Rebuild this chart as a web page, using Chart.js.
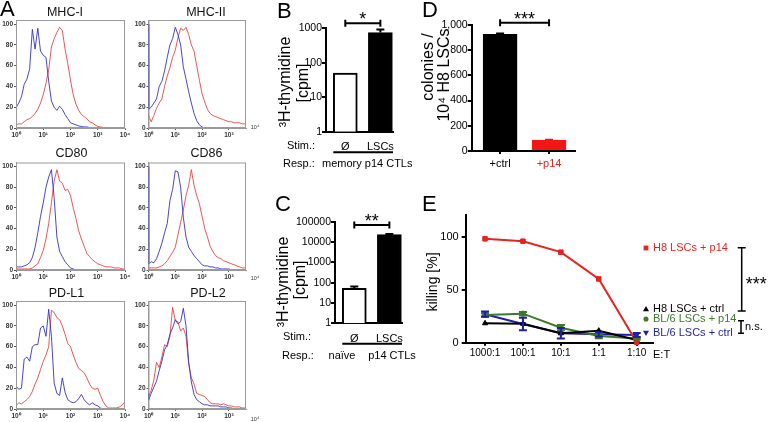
<!DOCTYPE html>
<html>
<head>
<meta charset="utf-8">
<script src="https://cdn.jsdelivr.net/npm/chart.js@4.4.1/dist/chart.umd.min.js"></script>
<style>
  html, body { margin: 0; padding: 0; background: #fff; }
  #fig { position: relative; width: 768px; height: 422px; overflow: hidden; font-family: "Liberation Sans", Arial, sans-serif; }
  #fig canvas { position: absolute; }
  .t { position: absolute; white-space: nowrap; line-height: 1; color: #000; }
</style>
</head>
<body>
<div id="fig"></div>
<script>
// ---- data: flow histograms (x = log10 of fluorescence, y = % of max) ----
const HIST_EXP = [0, 0.01, 0.1, 0.2, 0.3, 0.4, 0.5, 0.6, 0.7, 0.8, 0.9, 1.0, 1.1, 1.2, 1.3, 1.4, 1.5, 1.6, 1.7, 1.8, 1.9, 2.0,
  2.1, 2.2, 2.3, 2.4, 2.5, 2.6, 2.7, 2.8, 2.9, 3.0, 3.1, 3.2, 3.3, 3.4, 3.5, 3.6, 3.7, 3.8, 3.9, 4.0];
const HIST_X_LABELS = ['10⁰', '10¹', '10²', '10³', '10⁴'];
const HIST_Y_TICKS = [0, 20, 40, 60, 80, 100];

const MHC1_CTRL  = [100, 20, 24, 30, 42, 47, 57, 95, 76, 96, 74, 70, 68, 45, 26, 20, 17, 21, 18, 13, 9, 5, 4, 3, 2, 1.5, 1, 1, 0.5, 0.5, 0, 0, 0, 0, 0, 0, 0, 0, 0, 0, 0, 0];
const MHC1_STAIN = [3, 3, 4, 4, 6, 8, 9, 11, 14, 18, 24, 32, 43, 56, 78, 86, 92, 97, 94, 76, 62, 46, 32, 23, 17, 13, 11, 9, 6, 5, 3, 1.5, 1, 0.5, 0.5, 0, 0, 0, 0, 0, 0, 0];
const MHC2_CTRL  = [100, 18, 20, 24, 28, 40, 45, 55, 68, 80, 86, 97, 90, 80, 59, 47, 35, 24, 14, 7, 3, 1, 0, 0, 0, 0, 0, 0, 0, 0, 0, 0, 0, 0, 0, 0, 0, 0, 0, 0, 0, 0];
const MHC2_STAIN = [12, 11, 6, 12, 19, 24, 28, 40, 50, 58, 68, 75, 87, 96, 94, 97, 90, 80, 74, 60, 46, 33, 25, 18, 14, 12, 11, 10, 9, 8, 7, 6, 6, 5, 5, 5, 4, 4, 3, 3, 3, 2];
const CD80_CTRL  = [12, 3, 3, 3, 4, 5, 7, 12, 22, 36, 52, 65, 80, 90, 97, 70, 32, 18, 13, 8, 5, 2, 1, 0, 0, 0, 0, 0, 0, 0, 0, 0, 0, 0, 0, 0, 0, 0, 0, 0, 0, 0];
const CD80_STAIN = [2, 1, 1, 1, 1, 1, 1, 2, 4, 6, 12, 19, 30, 45, 65, 86, 97, 86, 84, 77, 78, 72, 60, 50, 38, 30, 23, 16, 13, 10, 8, 6, 5, 4, 3, 3, 3, 2, 2, 2, 1, 1];
const CD86_CTRL  = [100, 6, 8, 7, 11, 18, 26, 36, 45, 67, 78, 96, 95, 80, 51, 32, 22, 18, 14, 11, 8, 5, 4, 4, 3, 3, 2, 2, 1, 1, 1, 1, 0, 0, 0, 0, 0, 0, 0, 0, 0, 0];
const CD86_STAIN = [2, 2, 2, 2, 2, 3, 4, 6, 9, 13, 17, 22, 34, 46, 58, 72, 82, 97, 82, 72, 64, 52, 40, 32, 23, 18, 14, 12, 11, 9, 8, 7, 6, 5, 4, 3, 2, 2, 1, 1, 1, 1];
const PDL1_CTRL  = [30, 22, 19, 20, 48, 50, 46, 60, 62, 62, 78, 80, 70, 96, 70, 25, 15, 13, 30, 16, 9, 7, 6, 7, 10, 14, 9, 6, 4, 6, 4, 3, 1, 0, 0, 0, 0, 0, 0, 0, 0, 0];
const PDL1_STAIN = [3, 3, 6, 5, 7, 9, 12, 17, 24, 30, 38, 46, 52, 60, 95, 93, 88, 86, 80, 72, 63, 60, 52, 45, 39, 37, 35, 30, 24, 20, 19, 20, 13, 7, 3, 1, 1, 1, 1, 2, 4, 7];
const PDL2_CTRL  = [15, 9, 15, 21, 27, 37, 46, 57, 62, 72, 78, 86, 82, 84, 97, 80, 45, 26, 14, 9, 7, 5, 4, 4, 3, 3, 3, 3, 2, 2, 2, 1, 1, 0, 0, 0, 0, 0, 0, 0, 0, 0];
const PDL2_STAIN = [12, 12, 18, 28, 45, 40, 50, 62, 60, 70, 98, 85, 84, 75, 78, 70, 44, 30, 24, 15, 14, 13, 12, 9, 6, 5, 5, 5, 4, 5, 4, 3, 3, 2, 2, 2, 1, 1, 1, 1, 1, 1];

// ---- data: proliferation (B, C) ----
const STIM = ['Ø', 'LSCs'];
const B_CPM = [50, 750];
const B_ERR = [0, 170];
const B_TICKS = [1, 10, 100, 1000];
const C_CPM = [53, 23000];
const C_ERR = [12, 2000];
const C_TICKS = [1, 10, 100, 1000, 10000, 100000];

// ---- data: colonies (D) ----
const D_LABELS = ['+ctrl', '+p14'];
const D_COLONIES = [926, 87];
const D_ERR = [6, 3];
const D_TICKS = [0, 200, 400, 600, 800, 1000];

// ---- data: killing (E) ----
const ET = ['1000:1', '100:1', '10:1', '1:1', '1:10'];
const E_TICKS = [0, 50, 100];
const KILL_H8_P14 = [98.4, 96.2, 85.8, 60.4, 0.5];
const KILL_H8_CTRL = [18.4, 18, 8.9, 11.4, 2.5];
const KILL_BL6_P14 = [26.3, 27.5, 14.2, 6.3, 4];
const KILL_BL6_CTRL = [27, 17.7, 8.9, 7.9, 7.3];
const ERR_H8_P14 = [0, 0, 0, 0, 0];
const ERR_H8_CTRL = [0, 0, 0, 0, 0];
const ERR_BL6_P14 = [1.5, 1.5, 2.5, 2, 1];
const ERR_BL6_CTRL = [2.5, 6, 5, 2, 2];

Chart.defaults.font.family = '"Liberation Sans", Arial, sans-serif';
Chart.defaults.font.size = 11;
Chart.defaults.color = '#000';
Chart.defaults.animation = false;
Chart.defaults.events = [];
Chart.defaults.plugins.legend.display = false;
Chart.defaults.plugins.tooltip.enabled = false;

const fig = document.getElementById('fig');

function canvasAt(left, top, w, h) {
  const c = document.createElement('canvas');
  c.width = w; c.height = h;
  c.style.left = left + 'px'; c.style.top = top + 'px';
  c.style.width = w + 'px'; c.style.height = h + 'px';
  fig.appendChild(c);
  return c;
}

function text(str, x, y, o = {}) {
  const d = document.createElement('div');
  d.className = 't';
  d.textContent = str;
  d.style.left = x + 'px';
  d.style.top = y + 'px';
  d.style.fontSize = (o.size || 11) + 'px';
  if (o.color) d.style.color = o.color;
  if (o.bold) d.style.fontWeight = 'bold';
  const ax = o.align === 'left' ? '0' : '-50%';
  d.style.transform = `translate(${ax},-50%)` + (o.rotate ? ' rotate(-90deg)' : '');
  fig.appendChild(d);
}

// chart area [L,T,R,B] in page pixels -> padding and axis sizes for a canvas [left,top,w,h]
function frame(cv, area) {
  return {
    padding: { left: 0, top: area[1] - cv[1], right: cv[0] + cv[2] - area[2], bottom: 0 },
    yw: area[0] - cv[0],
    xh: cv[1] + cv[3] - area[3]
  };
}

const boxPlugin = {
  id: 'box',
  afterDatasetsDraw(chart) {
    const { ctx, chartArea: a } = chart;
    ctx.save();
    ctx.strokeStyle = '#9a9a9a';
    ctx.lineWidth = 1;
    ctx.strokeRect(a.left + 0.5, a.top + 0.5, a.right - a.left - 1, a.bottom - a.top - 1);
    ctx.restore();
  }
};

const errorBars = {
  id: 'errorBars',
  afterDatasetsDraw(chart) {
    const ctx = chart.ctx, ys = chart.scales.y, isBar = chart.config.type === 'bar';
    chart.data.datasets.forEach((ds, di) => {
      if (!ds.errors) return;
      const meta = chart.getDatasetMeta(di);
      ctx.save();
      ctx.lineWidth = 2;
      meta.data.forEach((el, i) => {
        const e = ds.errors[i];
        if (!e) return;
        const v = ds.data[i].y;
        const c = ds.borderColor;
        ctx.strokeStyle = Array.isArray(c) ? c[i] : c;
        const top = ys.getPixelForValue(v + e);
        const bot = isBar ? el.y : ys.getPixelForValue(Math.max(v - e, 0));
        const w = 4;
        ctx.beginPath();
        ctx.moveTo(el.x, bot); ctx.lineTo(el.x, top);
        ctx.moveTo(el.x - w, top); ctx.lineTo(el.x + w, top);
        if (!isBar) { ctx.moveTo(el.x - w, bot); ctx.lineTo(el.x + w, bot); }
        ctx.stroke();
      });
      ctx.restore();
    });
  }
};

// significance bracket between the two bars, plus the line under the stimulus labels
const sigPlugin = {
  id: 'sig',
  afterDraw(chart, args, o) {
    if (!o || !o.text) return;
    const { ctx, chartArea: a } = chart;
    const bars = chart.getDatasetMeta(0).data;
    const x1 = bars[0].x, x2 = bars[1].x, y = a.top + o.dy;
    ctx.save();
    ctx.strokeStyle = '#000';
    ctx.lineWidth = 2;
    ctx.beginPath();
    ctx.moveTo(x1, y); ctx.lineTo(x2, y);
    ctx.moveTo(x1, y - 3.5); ctx.lineTo(x1, y + 3.5);
    ctx.moveTo(x2, y - 3.5); ctx.lineTo(x2, y + 3.5);
    if (o.under) {
      const yu = a.bottom + o.under;
      ctx.moveTo(bars[0].x - bars[0].width / 2, yu);
      ctx.lineTo(a.right, yu);
    }
    ctx.stroke();
    ctx.fillStyle = '#000';
    ctx.font = '18px "Liberation Sans", Arial, sans-serif';
    ctx.textAlign = 'center';
    ctx.textBaseline = 'alphabetic';
    ctx.fillText(o.text, (x1 + x2) / 2, y + 2);
    ctx.restore();
  }
};

function marker(ctx, style, down, x, y, r) {
  ctx.beginPath();
  if (style === 'rect') ctx.rect(x - r * 0.8, y - r * 0.8, r * 1.6, r * 1.6);
  else if (style === 'circle') ctx.arc(x, y, r * 0.85, 0, Math.PI * 2);
  else {
    const s = down ? -1 : 1;
    ctx.moveTo(x, y - s * r);
    ctx.lineTo(x + r, y + s * r * 0.75);
    ctx.lineTo(x - r, y + s * r * 0.75);
    ctx.closePath();
  }
  ctx.fill();
}

const legendE = {
  id: 'legendE',
  afterDraw(chart, args, o) {
    const ctx = chart.ctx;
    ctx.save();
    ctx.textBaseline = 'middle';
    ctx.textAlign = 'left';
    ctx.font = '11px "Liberation Sans", Arial, sans-serif';
    chart.data.datasets.forEach((ds, i) => {
      const y = o.ys[i];
      ctx.fillStyle = ds.borderColor;
      marker(ctx, ds.pointStyle, ds.pointRotation === 180, o.x, y, 3);
      ctx.fillText(ds.label, o.x + 7, y);
    });
    ctx.strokeStyle = '#000';
    ctx.fillStyle = '#000';
    ctx.lineWidth = 1.5;
    o.brackets.forEach(b => {
      ctx.beginPath();
      ctx.moveTo(b.x, b.y1); ctx.lineTo(b.x, b.y2);
      ctx.moveTo(b.x - b.cap, b.y1); ctx.lineTo(b.x + b.cap, b.y1);
      ctx.moveTo(b.x - b.cap, b.y2); ctx.lineTo(b.x + b.cap, b.y2);
      ctx.stroke();
      ctx.font = b.size + 'px "Liberation Sans", Arial, sans-serif';
      ctx.textBaseline = b.size > 12 ? 'alphabetic' : 'middle';
      const ym = (b.y1 + b.y2) / 2 + (b.size > 12 ? b.size * 0.57 : 0);
      ctx.fillText(b.text, b.x + 4, ym);
    });
    ctx.restore();
  }
};

// ---- A: histograms ----
const HIST_PANELS = [
  { title: 'MHC-I', ctrl: MHC1_CTRL, stain: MHC1_STAIN },
  { title: 'MHC-II', ctrl: MHC2_CTRL, stain: MHC2_STAIN },
  { title: 'CD80', ctrl: CD80_CTRL, stain: CD80_STAIN },
  { title: 'CD86', ctrl: CD86_CTRL, stain: CD86_STAIN },
  { title: 'PD-L1', ctrl: PDL1_CTRL, stain: PDL1_STAIN },
  { title: 'PD-L2', ctrl: PDL2_CTRL, stain: PDL2_STAIN }
];
const HIST_ROWS = [
  { top: 0, h: 142, T: 20, B: 128, ty: 12 },
  { top: 142, h: 142, T: 162.5, B: 270, ty: 152.5 },
  { top: 284, h: 138, T: 301, B: 409, ty: 292.5 }
];
const HIST_COLS = [
  { left: 0, w: 133, L: 16, R: 125, xmax: 4 },
  { left: 132, w: 120, L: 148.5, R: 246, xmax: 3.64 }
];
const HIST_TITLE_X = [[65, 206], [71.5, 206.5], [66.5, 208]];

HIST_PANELS.forEach((p, k) => {
  const row = HIST_ROWS[Math.floor(k / 2)], col = HIST_COLS[k % 2];
  const cv = [col.left, row.top, col.w, row.h];
  const f = frame(cv, [col.L, row.T, col.R, row.B]);
  const tickFont = { size: 6.5, weight: 'bold' };
  const grid = { drawOnChartArea: false, tickLength: 2, color: '#555', lineWidth: 1 };
  new Chart(canvasAt(...cv), {
    type: 'line',
    data: {
      datasets: [
        { data: HIST_EXP.map((x, i) => ({ x, y: p.ctrl[i] })), borderColor: 'rgba(50,50,205,0.9)', borderWidth: 1, pointRadius: 0 },
        { data: HIST_EXP.map((x, i) => ({ x, y: p.stain[i] })), borderColor: 'rgba(235,55,55,0.85)', borderWidth: 1, pointRadius: 0 }
      ]
    },
    options: {
      responsive: false,
      layout: { padding: f.padding },
      scales: {
        x: {
          type: 'linear', min: 0, max: col.xmax,
          afterBuildTicks: s => { s.ticks = HIST_X_LABELS.map((_, i) => ({ value: i })).filter(t => t.value <= col.xmax); },
          afterFit: s => { s.height = f.xh; },
          ticks: { callback: v => HIST_X_LABELS[v], font: tickFont, color: '#333', padding: 1, maxRotation: 0, autoSkip: false },
          grid, border: { color: '#999', width: 1 }
        },
        y: {
          min: 0, max: 104,
          afterBuildTicks: s => { s.ticks = HIST_Y_TICKS.map(v => ({ value: v })); },
          afterFit: s => { s.width = f.yw; },
          ticks: { font: tickFont, color: '#333', padding: 1 },
          grid, border: { color: '#999', width: 1 }
        }
      }
    },
    plugins: [boxPlugin]
  });
  text(p.title, HIST_TITLE_X[Math.floor(k / 2)][k % 2], row.ty, { size: 12.5, color: '#111' });
  if (k % 2 === 1) text('10⁴', 255, row.B + (k === 5 ? 11 : 0) + (k === 3 ? 9 : 0), { size: 5.5, color: '#333' });
});

// ---- B and C: 3H-thymidine bars on log axes ----
function prolifChart(cv, area, values, errs, ticks, max) {
  const f = frame(cv, area);
  const blackGrid = { drawOnChartArea: false, tickLength: 4, color: '#000', lineWidth: 2 };
  return new Chart(canvasAt(...cv), {
    type: 'bar',
    data: {
      datasets: [{
        data: values.map((v, i) => ({ x: i + 1, y: v })),
        errors: errs,
        backgroundColor: ['#ffffff', '#000000'],
        borderColor: '#000',
        borderWidth: 2,
        barThickness: 24
      }]
    },
    options: {
      responsive: false,
      layout: { padding: f.padding },
      scales: {
        x: {
          type: 'linear', min: 0.45, max: 2.36, offset: false,
          afterBuildTicks: s => { s.ticks = STIM.map((_, i) => ({ value: i + 1 })); },
          afterFit: s => { s.height = f.xh; },
          ticks: { callback: v => STIM[v - 1], font: { size: 11 }, padding: 1, maxRotation: 0, autoSkip: false },
          grid: { display: false },
          border: { color: '#000', width: 2 }
        },
        y: {
          type: 'logarithmic', min: 1, max,
          afterBuildTicks: s => { s.ticks = ticks.map(v => ({ value: v })); },
          afterFit: s => { s.width = f.yw; },
          ticks: { callback: v => String(v), font: { size: 10.5 }, padding: 0 },
          grid: blackGrid,
          border: { color: '#000', width: 2 }
        }
      },
      plugins: { sig: { text: cv[1] === 0 ? '*' : '**', dy: cv[1] === 0 ? -5 : 3.3, under: 20.5 } }
    },
    plugins: [errorBars, sigPlugin]
  });
}

prolifChart([270, 0, 150, 180], [326, 28.3, 393, 131.7], B_CPM, B_ERR, B_TICKS, 1000);
prolifChart([270, 195, 150, 180], [335, 221.7, 402, 323.3], C_CPM, C_ERR, C_TICKS, 100000);

// ---- D: colonies ----
(function () {
  const cv = [440, 0, 160, 175];
  const f = frame(cv, [471.7, 25, 575, 151]);
  const tickColors = ['#000', '#ee1c1c'];
  new Chart(canvasAt(...cv), {
    type: 'bar',
    data: {
      datasets: [{
        data: D_COLONIES.map((v, i) => ({ x: i + 1, y: v })),
        errors: D_ERR,
        backgroundColor: ['#000000', '#f21616'],
        borderColor: ['#000000', '#f21616'],
        borderWidth: 1,
        barThickness: 34
      }]
    },
    options: {
      responsive: false,
      layout: { padding: f.padding },
      scales: {
        x: {
          type: 'linear', min: 0.42, max: 2.53, offset: false,
          afterBuildTicks: s => { s.ticks = D_LABELS.map((_, i) => ({ value: i + 1 })); },
          afterFit: s => { s.height = f.xh; },
          ticks: { callback: v => D_LABELS[v - 1], color: c => tickColors[c.index], font: { size: 11 }, padding: 3, maxRotation: 0, autoSkip: false },
          grid: { drawOnChartArea: false, offset: false, tickLength: 3, color: '#000', lineWidth: 2 },
          border: { color: '#000', width: 2 }
        },
        y: {
          min: 0, max: 1000,
          afterBuildTicks: s => { s.ticks = D_TICKS.map(v => ({ value: v })); },
          afterFit: s => { s.width = f.yw; },
          ticks: { font: { size: 10.5 }, padding: 0 },
          grid: { drawOnChartArea: false, tickLength: 4, color: '#000', lineWidth: 2 },
          border: { color: '#000', width: 2 }
        }
      },
      plugins: { sig: { text: '***', dy: -2.3 } }
    },
    plugins: [errorBars, sigPlugin]
  });
})();

// ---- E: killing ----
(function () {
  const cv = [420, 195, 348, 175];
  const f = frame(cv, [465.7, 215, 653, 342.7]);
  const series = [
    { label: 'H8 LSCs + p14', y: KILL_H8_P14, err: ERR_H8_P14, color: '#e8221e', style: 'rect', r: 3.2, rot: 0 },
    { label: 'H8 LSCs + ctrl', y: KILL_H8_CTRL, err: ERR_H8_CTRL, color: '#000000', style: 'triangle', r: 3, rot: 0 },
    { label: 'BL/6 LSCs + p14', y: KILL_BL6_P14, err: ERR_BL6_P14, color: '#3b7a2c', style: 'circle', r: 2.6, rot: 0 },
    { label: 'BL/6 LSCs + ctrl', y: KILL_BL6_CTRL, err: ERR_BL6_CTRL, color: '#1f1fa6', style: 'triangle', r: 3, rot: 180 }
  ];
  new Chart(canvasAt(...cv), {
    type: 'line',
    data: {
      datasets: series.map(s => ({
        label: s.label,
        data: s.y.map((v, i) => ({ x: i, y: v })),
        errors: s.err,
        borderColor: s.color,
        backgroundColor: s.color,
        borderWidth: 2,
        pointStyle: s.style,
        pointRotation: s.rot,
        pointRadius: s.r,
        pointBorderWidth: 1,
        clip: 8
      }))
    },
    options: {
      responsive: false,
      layout: { padding: f.padding },
      scales: {
        x: {
          type: 'linear', min: -0.51, max: 4.43,
          afterBuildTicks: s => { s.ticks = ET.map((_, i) => ({ value: i })); },
          afterFit: s => { s.height = f.xh; },
          ticks: { callback: v => ET[v], font: { size: 10 }, padding: 2, maxRotation: 0, autoSkip: false },
          grid: { drawOnChartArea: false, tickLength: 3, color: '#000', lineWidth: 2 },
          border: { color: '#000', width: 2 }
        },
        y: {
          min: 0, max: 121,
          afterBuildTicks: s => { s.ticks = E_TICKS.map(v => ({ value: v })); },
          afterFit: s => { s.width = f.yw; },
          ticks: { font: { size: 11 }, padding: 3 },
          grid: { drawOnChartArea: false, tickLength: 4, color: '#000', lineWidth: 2 },
          border: { color: '#000', width: 2 }
        }
      },
      plugins: {
        legendE: {
          x: 226, ys: [53, 114, 124, 138],
          brackets: [
            { x: 321.7, y1: 52.7, y2: 116, cap: 4, text: '***', size: 18 },
            { x: 321, y1: 125.7, y2: 138.3, cap: 3, text: 'n.s.', size: 11 }
          ]
        }
      }
    },
    plugins: [errorBars, legendE]
  });
})();

// ---- panel letters and annotation text ----
text('A', 0, 9, { size: 22, align: 'left' });
text('B', 277, 11, { size: 22, align: 'left' });
text('C', 275, 204, { size: 22, align: 'left' });
text('D', 422, 10, { size: 22, align: 'left' });
text('E', 422, 204, { size: 22, align: 'left' });

text('³H-thymidine', 285, 82, { size: 16, rotate: true });
text('[cpm]', 303, 83, { size: 16, rotate: true });
text('Stim.:', 287, 145, { align: 'left' });
text('Resp.:', 283, 163, { align: 'left' });
text('memory p14 CTLs', 322, 163, { align: 'left' });

text('³H-thymidine', 283, 282, { size: 16, rotate: true });
text('[cpm]', 300, 280, { size: 16, rotate: true });
text('Stim.:', 283, 336, { align: 'left' });
text('Resp.:', 282, 355, { align: 'left' });
text('naïve', 342, 355);
text('p14 CTLs', 392, 355);

text('colonies /', 428, 67, { size: 16, rotate: true });
text('10⁴ H8 LSCs', 444, 75, { size: 16, rotate: true });

text('killing [%]', 432, 282, { size: 14, rotate: true });
text('E:T', 653, 354, { align: 'left' });
</script>
</body>
</html>
